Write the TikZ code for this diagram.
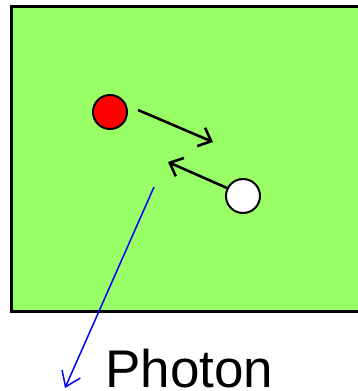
\documentclass[tikz,border=0pt]{standalone}
\usepackage{fontspec}
\setmainfont{Liberation Sans}
\usetikzlibrary{arrows.meta}
\definecolor{colfield}{HTML}{99FF66}

\begin{document}
\begin{tikzpicture}[
  x=1pt,y=-1pt,
  move/.style={-{Straight Barb[length=11pt,width=20pt]},line width=2.6pt},
  ray/.style={blue,-{Straight Barb[length=14pt,width=20pt]},line width=1.5pt},
  ball/.style={circle,draw,line width=2pt,minimum size=34pt,inner sep=0pt},
]
  \useasboundingbox (0,0) rectangle (358,391);
  \clip (0,0) rectangle (358,391);

  \draw[fill=colfield,line width=3pt] (11,6) rectangle (372,311);

  \node[ball,fill=red] (hole) at (110,112) {};
  \node[ball,fill=white] (elec) at (243,196) {};

  \coordinate (h0) at (138,110);
  \coordinate (h1) at (213,142);
  \coordinate (e0) at (227,188);
  \coordinate (e1) at (168,162);
  \draw[move] (h0) -- (h1);
  \draw[move] (e0) -- (e1);

  \coordinate (p0) at (154,187);
  \coordinate (p1) at (65,388);
  \draw[ray] (p0) -- (p1);

  \node[font=\fontsize{53}{53}\selectfont,anchor=base west,inner sep=0pt]
       (photon) at (105,387) {Photon};
\end{tikzpicture}
\end{document}
